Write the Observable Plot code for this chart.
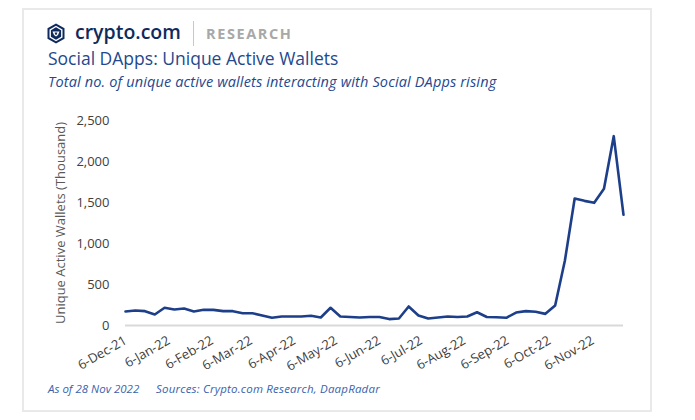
<!DOCTYPE html>
<html>
<head>
<meta charset="utf-8">
<script src="https://cdn.jsdelivr.net/npm/d3@7"></script>
<script src="https://cdn.jsdelivr.net/npm/@observablehq/plot@0.6"></script>
<style>
  html, body { margin: 0; padding: 0; background: #fff; }
  body { width: 695px; height: 420px; position: relative; overflow: hidden; font-family: "Open Sans", sans-serif; }
  #frame { position: absolute; left: 22px; top: 8px; width: 626px; height: 400px; border: 2px solid #e9e9e9; box-sizing: content-box; }
  #logo { position: absolute; left: 47px; top: 23px; }
  #brand { position: absolute; left: 75px; top: 18px; font-size: 19.5px; font-weight: 600; color: #0f2a5c; }
  #sep { position: absolute; left: 193px; top: 21px; width: 1px; height: 25px; background: #c8c8c8; }
  #research { position: absolute; left: 206px; top: 24px; font-size: 14.5px; font-weight: 700; color: #a8a8a8; letter-spacing: 1.6px; }
  #title { position: absolute; left: 48px; top: 46px; font-size: 17.5px; color: #23488e; }
  #subtitle { position: absolute; left: 48px; top: 72px; font-size: 14.5px; font-style: italic; color: #23488e; letter-spacing: 0.15px; }
  #chart { position: absolute; left: 0; top: 100px; }
  #foot1 { position: absolute; left: 48px; top: 381px; font-size: 11.5px; font-style: italic; color: #3a62ad; }
  #foot2 { position: absolute; left: 156px; top: 381px; font-size: 11.5px; font-style: italic; color: #3a62ad; letter-spacing: 0.2px; }
</style>
</head>
<body>
<div id="frame"></div>
<svg id="logo" width="18" height="21" viewBox="0 0 18 21">
  <polygon points="9,0.5 17.5,5.3 17.5,15.7 9,20.5 0.5,15.7 0.5,5.3" fill="#0f2a5c"/>
  <polygon points="9,3.5 14.8,6.8 14.8,14.2 9,17.5 3.2,14.2 3.2,6.8" fill="none" stroke="#fff" stroke-width="1.4"/>
  <path d="M5.5,8.5 L12.5,8.5 L11,12 L9,13.5 L7,12 Z" fill="#fff"/>
  <path d="M7.6,9.6 L10.4,9.6 L9.8,11.4 L9,12 L8.2,11.4 Z" fill="#0f2a5c"/>
</svg>
<div id="brand">crypto.com</div>
<div id="sep"></div>
<div id="research">RESEARCH</div>
<div id="title">Social DApps: Unique Active Wallets</div>
<div id="subtitle">Total no. of unique active wallets interacting with Social DApps rising</div>
<div id="chart"></div>
<div id="foot1">As of 28 Nov 2022</div>
<div id="foot2">Sources: Crypto.com Research, DaapRadar</div>
<script>
// Weekly observations, starting 6-Dec-2021
const startDate = "2021-12-06";
const wallets = [
  171, 183, 175, 134, 216, 195, 207, 171, 191, 191,
  175, 175, 150, 150, 122, 94, 110, 110, 110, 118,
  98, 216, 110, 104, 98, 104, 104, 78, 85, 232,
  122, 85, 98, 110, 104, 110, 162, 104, 101, 94,
  158, 175, 167, 142, 244, 793, 1549, 1520, 1496, 1667,
  2309, 1350
];
const yTicks = [0, 500, 1000, 1500, 2000, 2500];
const xTickDates = ["2021-12-06","2022-01-06","2022-02-06","2022-03-06","2022-04-06","2022-05-06",
  "2022-06-06","2022-07-06","2022-08-06","2022-09-06","2022-10-06","2022-11-06"];
const yLabel = "Unique Active Wallets (Thousand)";

const parse = d3.utcParse("%Y-%m-%d");
const t0 = parse(startDate);
const data = wallets.map((v, i) => ({date: d3.utcDay.offset(t0, 7 * i), value: v}));
const fmtDate = d => `${d.getUTCDate()}-${d3.utcFormat("%b")(d)}-${d3.utcFormat("%y")(d)}`;

const chart = Plot.plot({
  width: 695,
  height: 280,
  marginLeft: 125,
  marginRight: 72,
  marginTop: 20,
  marginBottom: 55,
  style: {fontFamily: "Open Sans, sans-serif", background: "transparent", overflow: "visible"},
  x: {type: "utc", domain: [data[0].date, data[data.length - 1].date]},
  y: {domain: [0, 2500]},
  marks: [
    Plot.ruleY([0], {stroke: "#d9d9d9", strokeWidth: 2}),
    Plot.axisY({ticks: yTicks, tickSize: 0, tickPadding: 16, tickFormat: d3.format(","), fontSize: 13, fill: "#404040", label: null}),
    Plot.axisX({ticks: xTickDates.map(parse), tickSize: 0, tickPadding: 14, tickRotate: -30, tickFormat: fmtDate, fontSize: 13, fill: "#404040", label: null}),
    Plot.text([yLabel], {frameAnchor: "left", textAnchor: "middle", dx: -65, rotate: -90, fontSize: 13, fill: "#595959"}),
    Plot.lineY(data, {x: "date", y: "value", stroke: "#1d3f8a", strokeWidth: 2.6, strokeLinejoin: "round"})
  ]
});
document.getElementById("chart").appendChild(chart);
</script>
</body>
</html>
